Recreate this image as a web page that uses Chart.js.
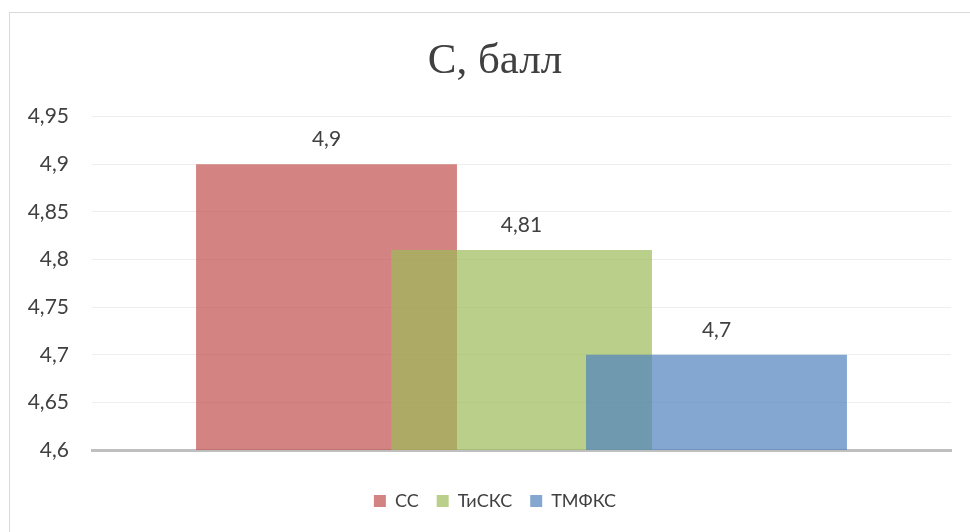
<!DOCTYPE html>
<html>
<head>
<meta charset="utf-8">
<script src="https://cdn.jsdelivr.net/npm/chart.js@4/dist/chart.umd.min.js"></script>
<style>
  html, body { margin: 0; padding: 0; background: #ffffff; }
  #wrap { width: 970px; height: 532px; }
</style>
</head>
<body>
<div id="wrap"><canvas id="chart" width="970" height="532"></canvas></div>
<script>
// Series and their scores
const chartTitle = 'С, балл';
const categoryLabels = [''];
const seriesNames = ['СС', 'ТиСКС', 'ТМФКС'];
const seriesValues = [4.9, 4.81, 4.7];
const yTickMin = 4.6;
const yTickMax = 4.95;
const yTickStep = 0.05;

const palette = ['rgba(192,80,77,0.7)', 'rgba(155,187,89,0.7)', 'rgba(79,129,189,0.7)'];
const textColor = '#404040';
const tickFont = { family: 'Lato', size: 21 };

const fmt = v => (Math.round(v * 100) / 100).toString().replace('.', ',');

// Light frame around the chart
const framePlugin = {
  id: 'frame',
  beforeDraw(chart) {
    const ctx = chart.ctx;
    ctx.save();
    ctx.strokeStyle = '#d9d9d9';
    ctx.lineWidth = 1;
    ctx.strokeRect(9.5, 12.5, chart.width + 20, chart.height + 20);
    ctx.restore();
  }
};

// Draw bars in dataset order so later series sit on top, clipped to the plot area
const drawInOrder = {
  id: 'drawInOrder',
  beforeDatasetsDraw(chart) {
    const ctx = chart.ctx;
    const a = chart.chartArea;
    ctx.save();
    ctx.beginPath();
    ctx.rect(a.left, a.top, a.right - a.left, a.bottom - a.top);
    ctx.clip();
    chart.data.datasets.forEach((ds, i) => {
      const meta = chart.getDatasetMeta(i);
      if (meta.visible) meta.controller.draw();
    });
    ctx.restore();
    return false;
  }
};

// Value labels above each bar
const valueLabels = {
  id: 'valueLabels',
  afterDraw(chart) {
    const ctx = chart.ctx;
    ctx.save();
    ctx.font = `${tickFont.size}px ${tickFont.family}`;
    ctx.fillStyle = textColor;
    ctx.textAlign = 'center';
    ctx.textBaseline = 'middle';
    chart.data.datasets.forEach((ds, i) => {
      const meta = chart.getDatasetMeta(i);
      if (!meta.visible) return;
      meta.data.forEach((el, j) => {
        ctx.fillText(fmt(ds.data[j]), el.x, el.y - 25);
      });
    });
    ctx.restore();
  }
};

const datasets = seriesNames.map((name, i) => ({
  label: name,
  data: [seriesValues[i]],
  backgroundColor: palette[i],
  borderWidth: 0,
  categoryPercentage: 0.681,
  barPercentage: 1.338
}));

new Chart(document.getElementById('chart'), {
  type: 'bar',
  data: { labels: categoryLabels, datasets },
  plugins: [framePlugin, drawInOrder, valueLabels],
  options: {
    responsive: false,
    animation: false,
    layout: { padding: { left: 20, right: 0, top: 0, bottom: 12 } },
    plugins: {
      tooltip: { enabled: false },
      title: {
        display: true,
        text: chartTitle,
        color: textColor,
        font: { family: 'Liberation Serif', size: 43, weight: 'normal' },
        padding: { top: 36, bottom: 29 }
      },
      legend: {
        position: 'bottom',
        labels: {
          boxWidth: 12,
          boxHeight: 12,
          padding: 18,
          color: textColor,
          font: { family: 'Lato', size: 18 }
        }
      }
    },
    scales: {
      x: {
        grid: { display: false, drawTicks: false },
        ticks: { display: false },
        border: { display: true, color: '#bfbfbf', width: 3 },
        afterFit(scale) { scale.height = 24; }
      },
      y: {
        min: yTickMin,
        max: yTickMax,
        ticks: {
          stepSize: yTickStep,
          padding: 23,
          color: textColor,
          font: tickFont,
          callback: v => fmt(v)
        },
        grid: { color: '#eeeeee', lineWidth: 1, drawTicks: false },
        border: { display: false },
        afterFit(scale) { scale.width = 72; }
      },
      // empty right-hand margin axis
      yRight: {
        position: 'right',
        display: true,
        ticks: { display: false },
        grid: { display: false, drawTicks: false },
        border: { display: false },
        afterFit(scale) { scale.width = 19; }
      }
    }
  }
});
</script>
</body>
</html>
